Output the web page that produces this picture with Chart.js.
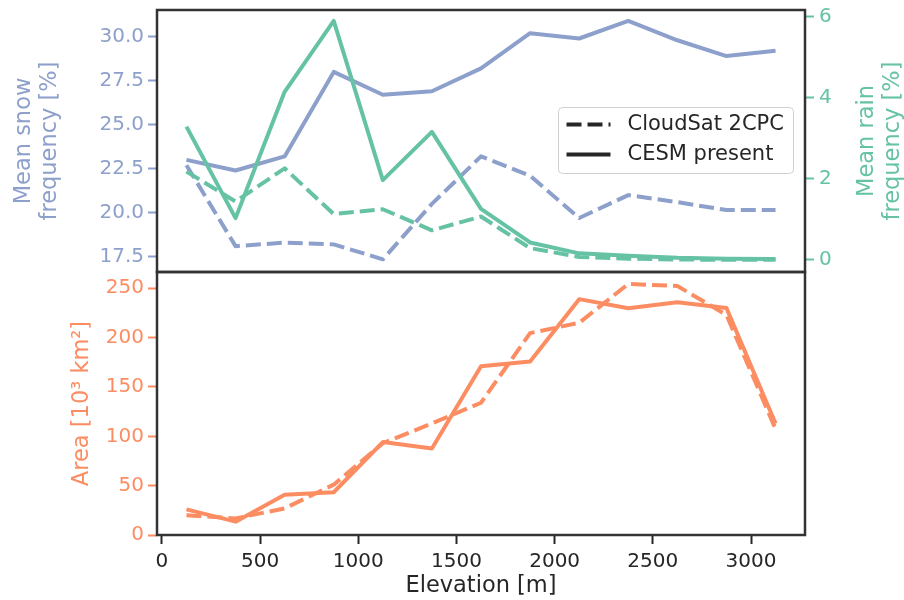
<!DOCTYPE html>
<html>
<head>
<meta charset="utf-8">
<script src="https://cdn.jsdelivr.net/npm/chart.js@4.4.1/dist/chart.umd.min.js"></script>
<style>
  html, body { margin: 0; padding: 0; background: #fff; }
  #wrap { position: relative; width: 904px; height: 600px; }
  #wrap canvas { position: absolute; left: 0; top: 0; }
</style>
</head>
<body>
<div id="wrap">
  <canvas id="areaChart" width="904" height="600"></canvas>
  <canvas id="freqChart" width="904" height="600"></canvas>
</div>
<script>
// elevation bin centres [m]
const elevation = [125, 375, 625, 875, 1125, 1375, 1625, 1875, 2125, 2375, 2625, 2875, 3125];

// mean snow frequency [%]
const snowCesm     = [23.0, 22.4, 23.2, 28.0, 26.7, 26.9, 28.2, 30.2, 29.9, 30.9, 29.8, 28.9, 29.2];
const snowCloudsat = [22.7, 18.1, 18.3, 18.2, 17.35, 20.5, 23.2, 22.1, 19.7, 21.0, 20.6, 20.15, 20.15];

// mean rain frequency [%]
const rainCesm     = [3.29, 1.03, 4.15, 5.9, 1.97, 3.16, 1.26, 0.43, 0.16, 0.10, 0.05, 0.03, 0.02];
const rainCloudsat = [2.18, 1.44, 2.26, 1.13, 1.25, 0.73, 1.07, 0.29, 0.07, 0.03, 0.01, 0.0, 0.0];

// area [10^3 km^2]
const areaCesm     = [26, 13.5, 40.7, 43.3, 94.2, 87.6, 170.9, 175.9, 239, 229.8, 235.9, 230, 113];
const areaCloudsat = [20, 16.8, 27, 51, 93, 113, 134, 204.6, 215, 254.4, 252.3, 223, 107.5];

const seriesNames = ["CloudSat 2CPC", "CESM present"];

const elevTicks = [0, 500, 1000, 1500, 2000, 2500, 3000];
const snowTicks = [17.5, 20.0, 22.5, 25.0, 27.5, 30.0];
const rainTicks = [0, 2, 4, 6];
const areaTicks = [0, 50, 100, 150, 200, 250];

const BLUE = "#8da0cb";
const GREEN = "#66c2a5";
const ORANGE = "#fc8d62";
const DARK = "#262626";
const FAMILY = "DejaVu Sans";
const TICK_FONT = { family: FAMILY, size: 20, lineHeight: 1.2 };
const LABEL_FONT = { family: FAMILY, size: 22.5, lineHeight: 1.16 };
const LEGEND_SIZE = 21;
const DASH = [15, 6];

function xy(ys) {
    return elevation.map((x, i) => ({ x: x, y: ys[i] }));
}

function setTicks(list) {
    return scale => { scale.ticks = list.map(v => ({ value: v })); };
}

// fixed axis sizes so both panels line up, and no extra label padding
function fixWidth(w) {
    return s => { s.width = w; s.paddingTop = 0; s.paddingBottom = 0; };
}

function line(label, ys, color, axis, dashed) {
    return {
        label,
        data: xy(ys),
        yAxisID: axis,
        borderColor: color,
        borderWidth: 4,
        borderDash: dashed ? DASH : [],
        borderCapStyle: "butt",
        borderJoinStyle: "round",
        pointRadius: 0,
        tension: 0,
        fill: false
    };
}

function axisGrid(color) {
    return { drawOnChartArea: false, drawTicks: true, tickLength: 9, tickWidth: 2, tickColor: color };
}

// box around the plot area
const framePlugin = {
    id: "frame",
    afterDraw(chart) {
        const { ctx, chartArea: a } = chart;
        ctx.save();
        ctx.strokeStyle = "#333";
        ctx.lineWidth = 2.5;
        ctx.strokeRect(a.left, a.top, a.right - a.left, a.bottom - a.top);
        ctx.restore();
    }
};

// right title reads upward like the left one (matplotlib style)
const rainTitlePlugin = {
    id: "rainTitle",
    afterDraw(chart) {
        const { ctx, chartArea: a } = chart;
        const cy = (a.top + a.bottom) / 2;
        ctx.save();
        ctx.fillStyle = GREEN;
        ctx.font = LABEL_FONT.size + "px " + FAMILY;
        ctx.textAlign = "center";
        ctx.textBaseline = "middle";
        [["Mean rain", 62], ["frequency [%]", 88]].forEach(([txt, dx]) => {
            ctx.save();
            ctx.translate(a.right + dx, cy);
            ctx.rotate(-Math.PI / 2);
            ctx.fillText(txt, 0, 0);
            ctx.restore();
        });
        ctx.restore();
    }
};

const legendPlugin = {
    id: "insideLegend",
    afterDraw(chart) {
        const { ctx, chartArea: a } = chart;
        const bx = a.right - 246.5, by = a.top + 97.5;
        ctx.save();
        ctx.beginPath();
        ctx.roundRect(bx, by, 235, 66, 4);
        ctx.fillStyle = "rgba(255,255,255,0.8)";
        ctx.fill();
        ctx.strokeStyle = "#d0d0d0";
        ctx.lineWidth = 1;
        ctx.stroke();

        ctx.font = LEGEND_SIZE + "px " + FAMILY;
        ctx.textBaseline = "middle";
        ctx.fillStyle = DARK;
        seriesNames.forEach((name, i) => {
            const y = by + 17 + i * 30;
            ctx.beginPath();
            ctx.setLineDash(i === 0 ? DASH : []);
            ctx.lineCap = "butt";
            ctx.strokeStyle = DARK;
            ctx.lineWidth = 4;
            ctx.moveTo(bx + 8, y);
            ctx.lineTo(bx + 52, y);
            ctx.stroke();
            ctx.setLineDash([]);
            ctx.fillText(name, bx + 69, y);
        });
        ctx.restore();
    }
};

new Chart(document.getElementById("freqChart"), {
    type: "line",
    data: {
        datasets: [
            line("CESM present rain", rainCesm, GREEN, "yRain", false),
            line("CloudSat 2CPC rain", rainCloudsat, GREEN, "yRain", true),
            line("CESM present snow", snowCesm, BLUE, "ySnow", false),
            line("CloudSat 2CPC snow", snowCloudsat, BLUE, "ySnow", true)
        ]
    },
    options: {
        responsive: false,
        animation: false,
        layout: { padding: { top: 10, bottom: 328, left: 0, right: 0 } },
        plugins: { legend: { display: false }, tooltip: { enabled: false } },
        scales: {
            x: { type: "linear", min: -25, max: 3275, display: false },
            ySnow: {
                type: "linear",
                position: "left",
                min: 16.63,
                max: 31.52,
                afterFit: fixWidth(157),
                afterBuildTicks: setTicks(snowTicks),
                ticks: { color: BLUE, font: TICK_FONT, padding: 4, callback: v => v.toFixed(1) },
                grid: axisGrid(BLUE),
                border: { display: false },
                title: { display: true, text: ["Mean snow", "frequency [%]"], color: BLUE, font: LABEL_FONT, padding: { top: 11 } }
            },
            yRain: {
                type: "linear",
                position: "right",
                min: -0.3,
                max: 6.17,
                afterFit: fixWidth(99),
                afterBuildTicks: setTicks(rainTicks),
                ticks: { color: GREEN, font: TICK_FONT, padding: 5 },
                grid: axisGrid(GREEN),
                border: { display: false }
            }
        }
    },
    plugins: [framePlugin, legendPlugin, rainTitlePlugin]
});

new Chart(document.getElementById("areaChart"), {
    type: "line",
    data: {
        datasets: [
            line("CESM present", areaCesm, ORANGE, "yArea", false),
            line("CloudSat 2CPC", areaCloudsat, ORANGE, "yArea", true)
        ]
    },
    options: {
        responsive: false,
        animation: false,
        layout: { padding: { top: 272, bottom: 0, left: 0, right: 99 } },
        plugins: { legend: { display: false }, tooltip: { enabled: false } },
        scales: {
            x: {
                type: "linear",
                position: "bottom",
                min: -25,
                max: 3275,
                afterFit: s => { s.height = 65; s.paddingLeft = 0; s.paddingRight = 0; },
                afterBuildTicks: setTicks(elevTicks),
                ticks: { color: DARK, font: TICK_FONT, padding: 6, callback: v => String(v) },
                grid: axisGrid(DARK),
                border: { display: false },
                title: { display: true, text: "Elevation [m]", color: DARK, font: LABEL_FONT, padding: { bottom: 1 } }
            },
            yArea: {
                type: "linear",
                position: "left",
                min: 0,
                max: 266.5,
                afterFit: fixWidth(157),
                afterBuildTicks: setTicks(areaTicks),
                ticks: { color: ORANGE, font: TICK_FONT, padding: 4 },
                grid: axisGrid(ORANGE),
                border: { display: false },
                title: { display: true, text: "Area [10³ km²]", color: ORANGE, font: LABEL_FONT, padding: { top: 69 } }
            }
        }
    },
    plugins: [framePlugin]
});
</script>
</body>
</html>
